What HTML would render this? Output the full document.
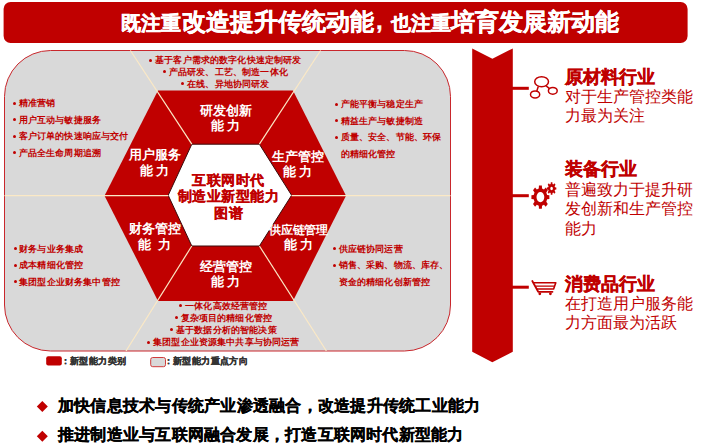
<!DOCTYPE html>
<html><head><meta charset="utf-8">
<style>
*{margin:0;padding:0;box-sizing:border-box}
html,body{width:707px;height:445px;overflow:hidden;background:#fff}
body{position:relative;font-family:"Liberation Sans",sans-serif;}
.t{position:absolute;white-space:nowrap}
.r{color:#c00000}
.w{color:#fff}
.b{font-weight:bold}
.s3{-webkit-text-stroke:0.35px currentColor}
.s2{-webkit-text-stroke:0.25px currentColor}
.c{text-align:center}
svg{position:absolute;left:0;top:0}
.bl{font-size:9px;letter-spacing:0.15px;line-height:16.5px;font-weight:bold;color:#c00000}
.d{display:inline-block;width:3px;height:3px;border-radius:50%;background:#c00000;margin-right:2.7px;vertical-align:1.5px}
.d.e{background:transparent}
</style></head><body>
<svg width="707" height="445" viewBox="0 0 707 445">
  <!-- title bar -->
  <rect x="3.6" y="2" width="684" height="41" rx="7" ry="7" fill="#c00000"/>
  <!-- box -->
  <rect x="4.5" y="50.5" width="446" height="300.5" rx="46" ry="46" fill="#d9d9d9" stroke="#c9272c" stroke-width="1"/>
  <!-- outer hex -->
  <polygon points="158,90.5 293,90.5 346,195.7 293,301 158,301 104.5,195.7" fill="#c00000"/>
  <!-- inner hex -->
  <polygon points="191.8,144.2 259.4,144.2 291.6,195.3 259.4,246 191.8,246 168.2,195.3" fill="#fff" stroke="#3a0a0a" stroke-width="1"/>
  <!-- lines -->
  <g stroke="#fbe9c6" stroke-width="1.2" fill="none">
    <line x1="130.4" y1="50.5" x2="191.8" y2="144.2"/>
    <line x1="320.6" y1="50.5" x2="259.4" y2="144.2"/>
    <line x1="126" y1="351" x2="191.8" y2="246"/>
    <line x1="326.4" y1="351" x2="259.4" y2="246"/>
    <line x1="4.5" y1="195.6" x2="168.2" y2="195.6"/>
    <line x1="291.6" y1="195.6" x2="450.5" y2="195.6"/>
  </g>
  <!-- vertical bar -->
  <polygon points="472.2,48.4 492.4,58.8 512.8,48.4 512.8,351.7 492.3,362.2 472.2,351.7" fill="#c00000"/>
  <!-- connectors -->
  <rect x="512" y="86.8" width="16.8" height="3" fill="#c00000"/>
  <rect x="512" y="194.2" width="16.8" height="3" fill="#c00000"/>
  <rect x="512" y="285.7" width="16.8" height="3" fill="#c00000"/>
  <!-- molecule icon -->
  <g stroke="#c00000" stroke-width="1.5" fill="none">
    <ellipse cx="541.6" cy="81.7" rx="6.9" ry="5.0"/>
    <ellipse cx="535.1" cy="94.4" rx="4.6" ry="3.5"/>
    <ellipse cx="552.8" cy="90.8" rx="4.4" ry="3.4"/>
    <line x1="538.3" y1="86.5" x2="536.8" y2="91"/>
    <line x1="545.8" y1="85.6" x2="549.5" y2="88.6"/>
  </g>
  <!-- gear icons -->
  <g fill="#c00000"><path fill-rule="evenodd" transform="translate(540.4,197.1) scale(1,1.3)" d="M-1.64,-6.70 L-1.45,-8.98 L1.45,-8.98 L1.64,-6.70 L3.58,-5.90 L5.33,-7.38 L7.38,-5.33 L5.90,-3.58 L6.70,-1.64 L8.98,-1.45 L8.98,1.45 L6.70,1.64 L5.90,3.58 L7.38,5.33 L5.33,7.38 L3.58,5.90 L1.64,6.70 L1.45,8.98 L-1.45,8.98 L-1.64,6.70 L-3.58,5.90 L-5.33,7.38 L-7.38,5.33 L-5.90,3.58 L-6.70,1.64 L-8.98,1.45 L-8.98,-1.45 L-6.70,-1.64 L-5.90,-3.58 L-7.38,-5.33 L-5.33,-7.38 L-3.58,-5.90Z M-3.90,0 a3.9,3.9 0 1,0 7.80,0 a3.9,3.9 0 1,0 -7.80,0Z"/><path fill-rule="evenodd" transform="translate(551.6,188.5) scale(1,1.32)" d="M-0.90,-3.38 L-0.81,-4.73 L0.81,-4.73 L0.90,-3.38 L1.76,-3.03 L2.77,-3.92 L3.92,-2.77 L3.03,-1.76 L3.38,-0.90 L4.73,-0.81 L4.73,0.81 L3.38,0.90 L3.03,1.76 L3.92,2.77 L2.77,3.92 L1.76,3.03 L0.90,3.38 L0.81,4.73 L-0.81,4.73 L-0.90,3.38 L-1.76,3.03 L-2.77,3.92 L-3.92,2.77 L-3.03,1.76 L-3.38,0.90 L-4.73,0.81 L-4.73,-0.81 L-3.38,-0.90 L-3.03,-1.76 L-3.92,-2.77 L-2.77,-3.92 L-1.76,-3.03Z M-1.30,0 a1.3,1.3 0 1,0 2.60,0 a1.3,1.3 0 1,0 -2.60,0Z"/></g>
  <!-- cart -->
  <g stroke="#c00000" fill="none" stroke-linecap="round" stroke-linejoin="round">
    <path d="M532.3,281 L538.2,291.8 L552.5,291.8" stroke-width="1.8"/>
    <path d="M534,282.8 L555.8,282.8 L553.6,289 L537.2,289" stroke-width="1.6"/>
    <line x1="536" y1="286.2" x2="554" y2="286.2" stroke-width="1.2"/>
  </g>
  <g fill="#c00000"><circle cx="539.8" cy="293.8" r="1.4"/><circle cx="550.4" cy="293.8" r="1.4"/></g>
  <!-- diamonds -->
  <polygon points="42.3,401 47.8,406.5 42.3,412 36.8,406.5" fill="#c00000"/>
  <polygon points="42.3,430.8 47.8,436.3 42.3,441.8 36.8,436.3" fill="#c00000"/>
  <!-- legend -->
  <rect x="46.2" y="356.2" width="15.6" height="9.4" rx="2" fill="#c00000"/>
  <rect x="150.7" y="357.5" width="14.8" height="9.2" rx="2" fill="#d9d9d9" stroke="#d03c3c" stroke-width="1"/>
</svg>

<!-- title -->
<div class="t w b s3" style="left:120.5px;top:8px;font-size:20px;line-height:30px">既注重</div>
<div class="t w b s3" style="left:181.5px;top:7px;font-size:24.2px;line-height:30px">改造提升传统动能</div>
<div class="t w b s3" style="left:376px;top:6px;font-size:24px;line-height:30px">,</div>
<div class="t w b s3" style="left:390.5px;top:8px;font-size:20px;line-height:30px">也注重</div>
<div class="t w b s3" style="left:451px;top:7px;font-size:24.2px;line-height:30px">培育发展新动能</div>

<!-- hex labels -->
<div class="t w b c" style="left:185px;width:81px;top:103px;font-size:13px;line-height:15px">研发创新<br>能 力</div>
<div class="t w b c" style="left:114px;width:81px;top:147px;font-size:13px;line-height:15.5px">用户服务<br>能 力</div>
<div class="t w b c" style="left:257px;width:81px;top:149px;font-size:13px;line-height:15px">生产管控<br>能 力</div>
<div class="t w b c" style="left:114px;width:81px;top:221px;font-size:13px;line-height:15.5px">财务管控<br>能&nbsp;&nbsp;力</div>
<div class="t w b c" style="left:258px;width:81px;top:223px;font-size:11.5px;letter-spacing:-0.25px;line-height:14.5px">供应链管理<br><span style="font-size:13px">能 力</span></div>
<div class="t w b c" style="left:185px;width:81px;top:259px;font-size:13px;line-height:15px">经营管控<br>能 力</div>
<div class="t r b c s2" style="left:168.5px;width:120px;top:172px;font-size:14px;letter-spacing:0.5px;line-height:16.3px">互联网时代<br>制造业新型能力<br>图谱</div>

<!-- bullets top -->
<div class="t bl c" style="left:145px;width:161px;top:55px;line-height:11.8px"><span class="d"></span>基于客户需求的数字化快速定制研发<br><span class="d"></span>产品研发、工艺、制造一体化<br><span class="d"></span>在线、异地协同研发</div>
<div class="t bl" style="left:13px;top:95px"><span class="d"></span>精准营销<br><span class="d"></span>用户互动与敏捷服务<br><span class="d"></span>客户订单的快速响应与交付<br><span class="d"></span>产品全生命周期追溯</div>
<div class="t bl" style="left:335px;top:96px"><span class="d"></span>产能平衡与稳定生产<br><span class="d"></span>精益生产与敏捷制造<br><span class="d"></span>质量、安全、节能、环保<br><span class="d e"></span>的精细化管控</div>
<div class="t bl" style="left:13.5px;top:240.5px"><span class="d"></span>财务与业务集成<br><span class="d"></span>成本精细化管控<br><span class="d"></span>集团型企业财务集中管控</div>
<div class="t bl" style="left:333px;top:240.5px"><span class="d"></span>供应链协同运营<br><span class="d"></span>销售、采购、物流、库存、<br><span class="d e"></span>资金的精细化创新管控</div>
<div class="t bl c" style="left:143px;width:161px;top:299.5px;line-height:12.2px"><span class="d"></span>一体化高效经营管控<br><span class="d"></span>复杂项目的精细化管控<br><span class="d"></span>基于数据分析的智能决策<br><span class="d"></span>集团型企业资源集中共享与协同运营</div>

<!-- legend text -->
<div class="t b s2" style="left:60.7px;top:355px;font-size:9px;letter-spacing:0.4px;line-height:12px;color:#333">：新型能力类别</div>
<div class="t b s2" style="left:163.6px;top:355px;font-size:9px;letter-spacing:0.4px;line-height:12px;color:#333">：新型能力重点方向</div>

<!-- right side -->
<div class="t r b s3" style="left:565px;top:66px;font-size:18px;line-height:22px">原材料行业</div>
<div class="t r" style="left:565px;top:87px;font-size:16px;line-height:19px">对于生产管控类能<br>力最为关注</div>
<div class="t r b s3" style="left:565px;top:158px;font-size:18px;line-height:22px">装备行业</div>
<div class="t r" style="left:565px;top:180px;font-size:16px;line-height:19.3px">普遍致力于提升研<br>发创新和生产管控<br>能力</div>
<div class="t r b s3" style="left:565px;top:273px;font-size:18px;line-height:22px">消费品行业</div>
<div class="t r" style="left:565px;top:294px;font-size:16px;line-height:19.3px">在打造用户服务能<br>力方面最为活跃</div>

<!-- bottom bullets -->
<div class="t b s2" style="left:58px;top:396px;letter-spacing:0.24px;font-size:16px;line-height:19px;color:#000">加快信息技术与传统产业渗透融合，改造提升传统工业能力</div>
<div class="t b s2" style="left:58px;top:425px;letter-spacing:0.22px;font-size:16px;line-height:19px;color:#000">推进制造业与互联网融合发展，打造互联网时代新型能力</div>
</body></html>
